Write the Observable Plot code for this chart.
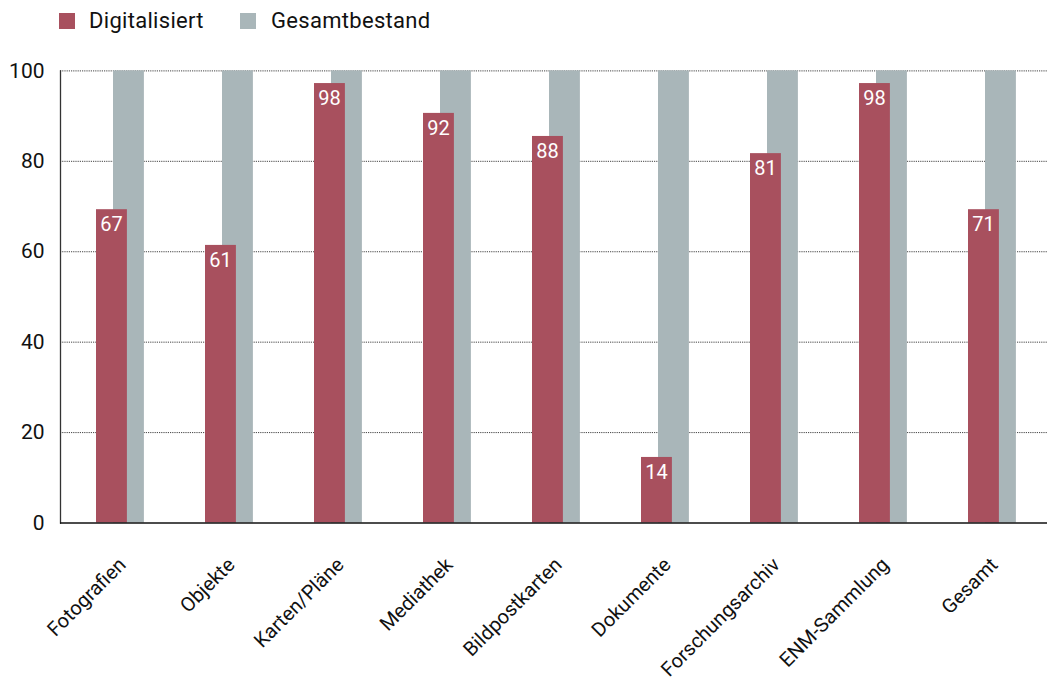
<!DOCTYPE html>
<html>
<head>
<meta charset="utf-8">
<script src="https://cdn.jsdelivr.net/npm/d3@7"></script>
<script src="https://cdn.jsdelivr.net/npm/@observablehq/plot@0.6"></script>
<style>
  html, body { margin: 0; padding: 0; background: #fff; }
  body { width: 1047px; height: 680px; overflow: hidden; font-family: Roboto, "Noto Sans", sans-serif; }
  #legend { position: relative; height: 45px; width: 1047px; }
  #legend .sw { position: absolute; width: 16px; height: 16px; top: 13px; }
  #legend .lb { position: absolute; top: 10px; font-size: 22px; line-height: 22px; letter-spacing: 0.3px; color: #111; white-space: nowrap; }
</style>
</head>
<body>
<div id="legend"></div>
<div id="chart"></div>
<script>
const categories = ["Fotografien", "Objekte", "Karten/Pläne", "Mediathek", "Bildpostkarten", "Dokumente", "Forschungsarchiv", "ENM-Sammlung", "Gesamt"];
const digitalisiert = [69.3, 61.4, 97.2, 90.6, 85.5, 14.5, 81.7, 97.2, 69.3];
const gesamtbestand = [100, 100, 100, 100, 100, 100, 100, 100, 100];
const valueLabels = ["67", "61", "98", "92", "88", "14", "81", "98", "71"];
const yTicks = [0, 20, 40, 60, 80, 100];
const seriesNames = ["Digitalisiert", "Gesamtbestand"];
const seriesColors = ["#a8505e", "#a9b6b9"];

const rows = categories.map((c, i) => ({
  cat: c,
  dig: digitalisiert[i],
  ges: gesamtbestand[i],
  label: valueLabels[i]
}));

// Legend
const legend = document.getElementById("legend");
const legendPos = [[59, 89], [240, 271]];
seriesNames.forEach((n, i) => {
  const sw = document.createElement("div");
  sw.className = "sw";
  sw.style.left = legendPos[i][0] + "px";
  sw.style.background = seriesColors[i];
  legend.appendChild(sw);
  const lb = document.createElement("div");
  lb.className = "lb";
  lb.style.left = legendPos[i][1] + "px";
  lb.textContent = n;
  legend.appendChild(lb);
});

const band = 982 / 9;
const chart = Plot.plot({
  width: 1047,
  height: 635,
  marginTop: 25.4,
  marginBottom: 157.5,
  marginLeft: 60,
  marginRight: 0,
  style: { fontFamily: "Roboto, 'Noto Sans', sans-serif", fontSize: "20px", color: "#111", background: "#fff" },
  x: { type: "band", domain: categories, range: [60, 1042], padding: 0, axis: null },
  y: { domain: [0, 100], axis: null },
  marks: [
    Plot.ruleY(yTicks.filter(d => d > 0), { stroke: "#444", strokeWidth: 1, strokeDasharray: "1.2,1" }),
    Plot.barY(rows, { x: "cat", y: "ges", fill: seriesColors[1], insetLeft: 52, insetRight: band - 83 }),
    Plot.barY(rows, { x: "cat", y: "dig", fill: seriesColors[0], insetLeft: 35, insetRight: band - 66 }),
    Plot.text(rows, { x: "cat", y: "dig", text: "label", fill: "#fff", fontSize: 20, lineAnchor: "top", dy: 7.5, dx: -4.5 }),
    Plot.axisY({ ticks: yTicks, tickSize: 0, tickPadding: 16, fontSize: 21, fill: "#111" }),
    Plot.text(categories, { x: d => d, frameAnchor: "bottom", text: d => d, rotate: -45, textAnchor: "end", lineAnchor: "bottom", fontSize: 20, dx: 11, dy: 43, fill: "#111" }),
    Plot.frame({ anchor: "left", stroke: "#333", strokeWidth: 1.3 }),
    Plot.ruleY([0], { stroke: "#111", strokeWidth: 1.6 })
  ]
});
document.getElementById("chart").appendChild(chart);
</script>
</body>
</html>
